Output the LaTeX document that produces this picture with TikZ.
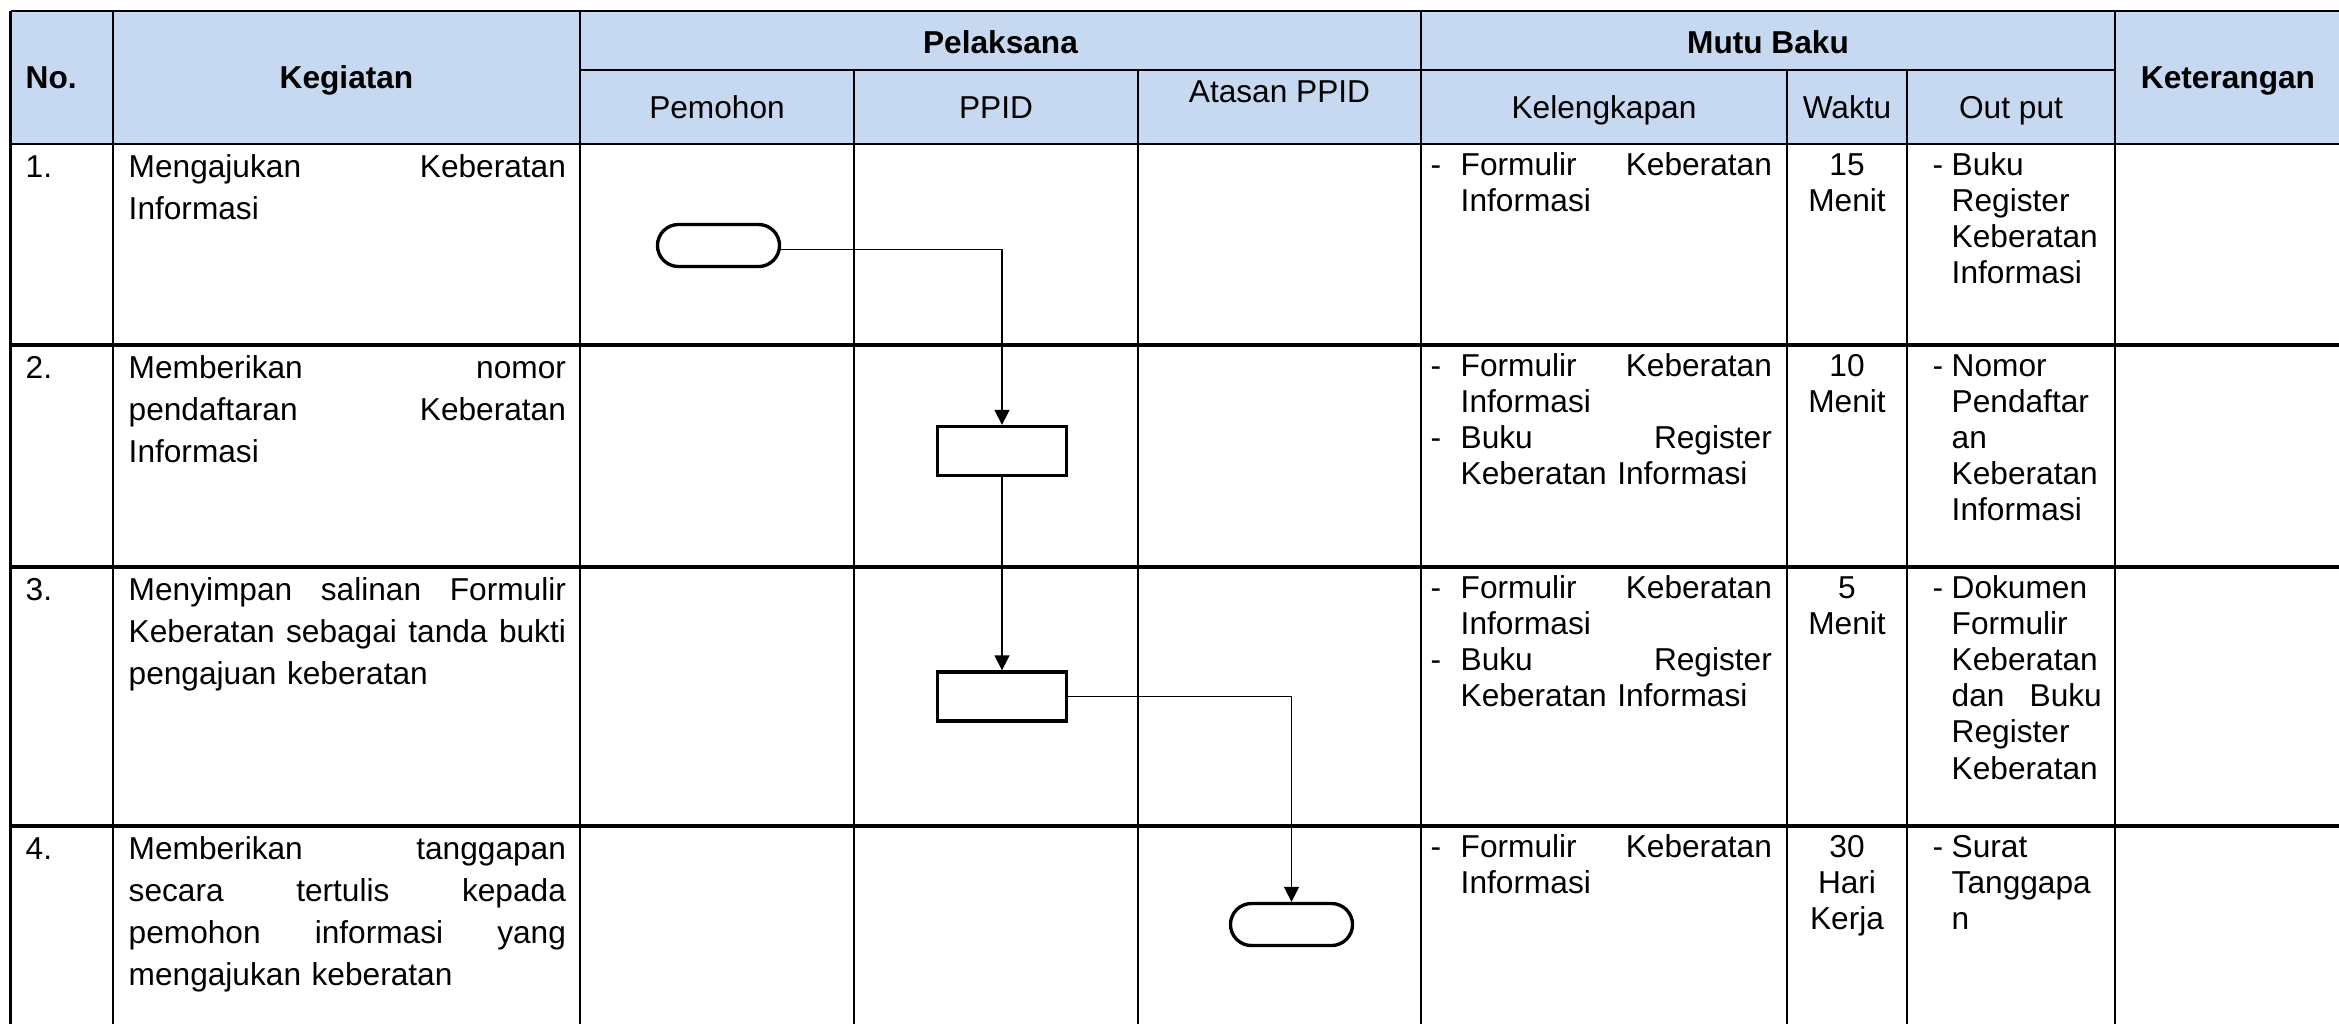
\documentclass[tikz,border=0pt]{standalone}
\usepackage{fontspec}
\setmainfont{Liberation Sans}
\usetikzlibrary{arrows.meta, shapes.misc}
\definecolor{headblue}{HTML}{C6D9F1}

\begin{document}
\begin{tikzpicture}[x=0.01cm, y=-0.01cm,
		head/.style={font=\fontsize{9}{10.3}\selectfont\bfseries, inner sep=0pt, anchor=base},
		sub/.style={font=\fontsize{9}{10.3}\selectfont, inner sep=0pt, anchor=base},
		body/.style={font=\fontsize{9}{10.3}\selectfont, inner sep=0pt, anchor=base west, align=left},
		task/.style={body, font=\fontsize{9}{11.95}\selectfont, text width=4.37cm},
		procbox/.style={draw, line width=0.95pt, minimum width=1.29cm, minimum height=0.49cm, inner sep=0pt},
		termbox/.style={draw, rounded rectangle, line width=0.95pt, minimum width=1.22cm, minimum height=0.42cm, inner sep=0pt},
		flow/.style={line width=0.45pt},
		grid/.style={line width=0.7pt}]
	\newcommand{\justLine}[1]{%
		% one line spread over the whole cell width
		\makebox[\hsize][s]{\spaceskip=0pt\relax#1}}
	\newcommand{\dashItem}[1]{%
		% dash hanging left of the text
		% args:
		%     gap between dash and text
		\leavevmode\llap{\makebox[#1][l]{-}}}
	% wrappers
	\newcommand{\kelDash}{\dashItem{0.30cm}}
	\newcommand{\outDash}{\dashItem{0.19cm}}
	\newcommand{\tableRow}[6]{
		% draws the texts of one row
		% args:
		%     number
		%     top of the row
		%     kegiatan
		%     kelengkapan
		%     waktu
		%     out put
		\node[body] (no_#1) at (25, #2+33) {#1.};
		\node[task] (keg_#1) at (128, #2+33) {#3};
		\node[body, text width=3.11cm] (kel_#1) at (1460, #2+31) {#4};
		\node[body, anchor=base, align=center, text width=1.2cm] (wkt_#1) at (1847, #2+31) {#5};
		\node[body, text width=1.5cm] (out_#1) at (1951, #2+31) {#6};
	}
	\useasboundingbox (0,0) rectangle (2339,1023);
	\clip (0,0) rectangle (2339,1023);
	%
	% the table
	\fill[headblue] (10.5,11) rectangle (2400,144);
	\draw[grid] (10.5,11) -- (2400,11) (580,70) -- (2115,70) (10.5,144) -- (2400,144);
	\draw[grid, line width=0.9pt] (10.5,345) -- (2400,345) (10.5,567) -- (2400,567) (10.5,826) -- (2400,826);
	\draw[grid] (10.5,11) -- (10.5,1040) (113,11) -- (113,1040) (580,11) -- (580,1040)
		(1421,11) -- (1421,1040) (2115,11) -- (2115,1040);
	\draw[grid] (854,70) -- (854,1040) (1138,70) -- (1138,1040)
		(1787,70) -- (1787,1040) (1907,70) -- (1907,1040);
	% header
	\node[head, anchor=base west] (h_no) at (25,88) {No.};
	\node[head] (h_keg) at (346.5,88) {Kegiatan};
	\node[head] (h_pel) at (1000.5,53) {Pelaksana};
	\node[head] (h_mutu) at (1768,53) {Mutu Baku};
	\node[head] (h_ket) at (2228,88) {Keterangan};
	\node[sub] (h_pem) at (717,118) {Pemohon};
	\node[sub] (h_ppid) at (996,118) {PPID};
	\node[sub] (h_atasan) at (1279.5,102) {Atasan PPID};
	\node[sub] (h_kel) at (1604,118) {Kelengkapan};
	\node[sub] (h_wkt) at (1847,118) {Waktu};
	\node[sub] (h_out) at (2011,118) {Out put};
	% rows
	\tableRow{1}{144}
		{\justLine{Mengajukan Keberatan}\\Informasi}
		{\kelDash\justLine{Formulir Keberatan}\\Informasi}
		{15\\Menit}
		{\outDash Buku\\Register\\Keberatan\\Informasi}
	\tableRow{2}{345}
		{\justLine{Memberikan nomor}\\\justLine{pendaftaran Keberatan}\\Informasi}
		{\kelDash\justLine{Formulir Keberatan}\\Informasi\\\kelDash\justLine{Buku Register}\\Keberatan Informasi}
		{10\\Menit}
		{\outDash Nomor\\Pendaftar\\an\\Keberatan\\Informasi}
	\tableRow{3}{567}
		{\justLine{Menyimpan salinan Formulir}\\\justLine{Keberatan sebagai tanda bukti}\\pengajuan keberatan}
		{\kelDash\justLine{Formulir Keberatan}\\Informasi\\\kelDash\justLine{Buku Register}\\Keberatan Informasi}
		{5\\Menit}
		{\outDash Dokumen\\Formulir\\Keberatan\\\justLine{dan Buku}\\Register\\Keberatan}
	\tableRow{4}{826}
		{\justLine{Memberikan tanggapan}\\\justLine{secara tertulis kepada}\\\justLine{pemohon informasi yang}\\mengajukan keberatan}
		{\kelDash\justLine{Formulir Keberatan}\\Informasi}
		{30\\Hari\\Kerja}
		{\outDash Surat\\Tanggapa\\n}
	%
	% flow symbols
	\node[termbox] (start) at (718.5,245.5) {};
	\node[procbox] (reg) at (1002,451) {};
	\node[procbox] (copy) at (1002,696.5) {};
	\node[termbox] (reply) at (1291.5,924.5) {};
	% connectors
	\draw[-{Triangle[length=1.5mm, width=1.5mm]}, flow] ([yshift=-0.04cm]start.east) -| (reg.north);
	\draw[-{Triangle[length=1.5mm, width=1.5mm]}, flow] (reg.south) -- (copy.north);
	\draw[-{Triangle[length=1.5mm, width=1.5mm]}, flow] (copy.east) -| (reply.north);
\end{tikzpicture}
\end{document}
